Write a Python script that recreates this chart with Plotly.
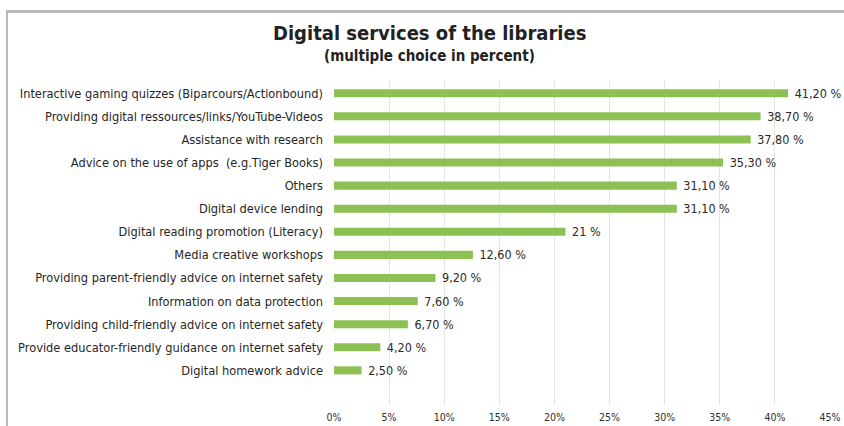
import plotly.graph_objects as go

# Survey results: digital services offered by libraries (multiple choice, %)
services = [
    "Interactive gaming quizzes (Biparcours/Actionbound)",
    "Providing digital ressources/links/YouTube-Videos",
    "Assistance with research",
    "Advice on the use of apps  (e.g.Tiger Books)",
    "Others",
    "Digital device lending",
    "Digital reading promotion (Literacy)",
    "Media creative workshops",
    "Providing parent-friendly advice on internet safety",
    "Information on data protection",
    "Providing child-friendly advice on internet safety",
    "Provide educator-friendly guidance on internet safety",
    "Digital homework advice",
]
shares = [41.2, 38.7, 37.8, 35.3, 31.1, 31.1, 21.0, 12.6, 9.2, 7.6, 6.7, 4.2, 2.5]
x_ticks = [0, 5, 10, 15, 20, 25, 30, 35, 40, 45]


def fmt(v):
    # German-style decimal comma; whole numbers shown without decimals
    if float(v).is_integer():
        return f"{int(v)} %"
    return f"{v:.2f}".replace(".", ",") + " %"


FONT = "DejaVu Sans Condensed, DejaVu Sans, sans-serif"
W, H = 844, 426
L, R, T, B = 334, 14, 81, 21
plot_w = W - L - R
plot_h = H - T - B

fig = go.Figure(
    go.Bar(
        x=shares,
        y=services,
        orientation="h",
        width=0.35,
        marker=dict(color="#8dc153", line=dict(width=0)),
        text=[" " + fmt(v) for v in shares],
        textposition="outside",
        constraintext="none",
        textfont=dict(family=FONT, size=12.5, color="#2a2a2a"),
        cliponaxis=False,
        hoverinfo="skip",
    )
)


def px_to_paper_x(px):
    return (px - L) / plot_w


def px_to_paper_y(py):
    return 1 + (T - py) / plot_h


# frame around the chart (top and left edges visible)
fig.add_shape(type="line", xref="paper", yref="paper",
              x0=px_to_paper_x(6), x1=px_to_paper_x(860),
              y0=px_to_paper_y(11.5), y1=px_to_paper_y(11.5),
              line=dict(color="#b8b8b8", width=3))
fig.add_shape(type="line", xref="paper", yref="paper",
              x0=px_to_paper_x(7), x1=px_to_paper_x(7),
              y0=px_to_paper_y(10), y1=px_to_paper_y(440),
              line=dict(color="#b8b8b8", width=2))

fig.add_annotation(
    text="<b>Digital services of the libraries</b>",
    xref="paper", yref="paper",
    x=px_to_paper_x(429), y=px_to_paper_y(33),
    xanchor="center", yanchor="middle", showarrow=False,
    font=dict(family=FONT, size=20, color="#222222"),
)
fig.add_annotation(
    text="<b>(multiple choice in percent)</b>",
    xref="paper", yref="paper",
    x=px_to_paper_x(429), y=px_to_paper_y(56),
    xanchor="center", yanchor="middle", showarrow=False,
    font=dict(family=FONT, size=15, color="#222222"),
)

fig.update_layout(
    width=W, height=H,
    margin=dict(l=L, r=R, t=T, b=B, pad=0, autoexpand=False),
    paper_bgcolor="white",
    plot_bgcolor="white",
    showlegend=False,
    xaxis=dict(
        range=[0, 45],
        tickvals=x_ticks,
        ticktext=[f"{t}%" for t in x_ticks],
        showgrid=True, gridcolor="#e4e4e4", gridwidth=1,
        zeroline=False, showline=False,
        tickfont=dict(family=FONT, size=10.5, color="#2e2e2e"),
        ticks="", ticklabelstandoff=4,
        automargin=False,
        fixedrange=True,
    ),
    yaxis=dict(
        categoryorder="array", categoryarray=services,
        range=[13.5, -0.53],
        showgrid=False, zeroline=False, showline=False,
        tickfont=dict(family=FONT, size=12.7, color="#262626"),
        ticks="", ticklabelstandoff=10,
        automargin=False,
        fixedrange=True,
    ),
)

fig.write_html("out.html")
